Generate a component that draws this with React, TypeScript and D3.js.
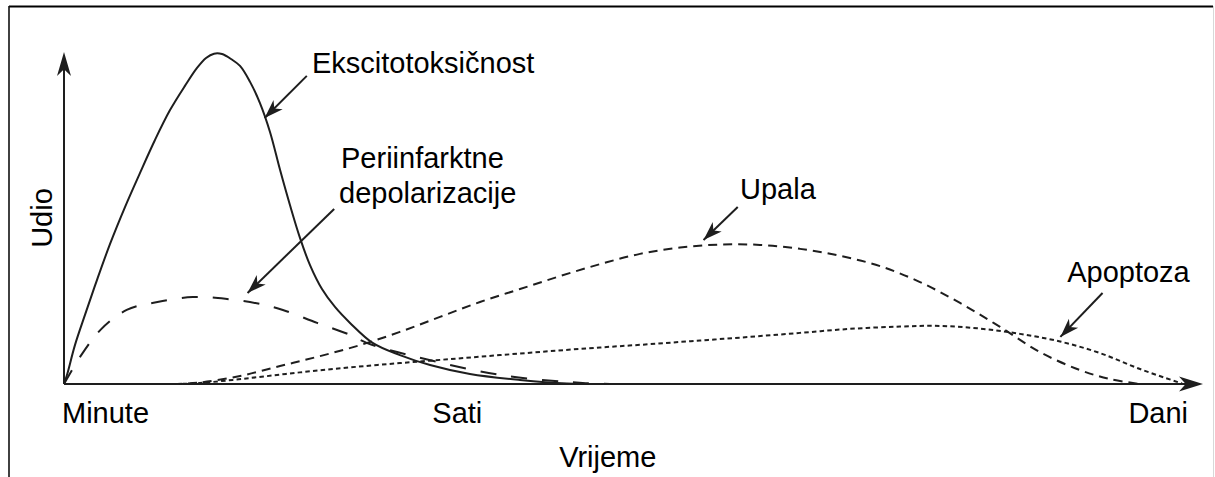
import React from 'react';
import * as d3 from 'd3';

// time runs on an arbitrary 0..100 scale (minutes -> hours -> days), share on 0..100
const excitoTime = [0, 0.26, 0.96, 1.84, 2.89, 4.04, 5.35, 6.67, 7.98, 9.3, 10.61, 11.67, 12.46, 13.16, 13.86, 14.65, 15.44, 16.32, 17.19, 18.07, 18.95, 19.82, 20.7, 21.58, 22.63, 23.77, 25.09, 27.11, 29.47, 32.11, 35.61, 40.0, 44.12, 47.89];
const excitoShare = [0, 2.7, 11.7, 20.8, 31.3, 42.2, 53.3, 63.6, 73.5, 82.5, 89.8, 95.2, 98.2, 99.5, 99.4, 97.9, 95.8, 91.0, 84.6, 75.9, 64.5, 53.9, 44.0, 35.8, 28.6, 23.2, 18.4, 12.3, 8.7, 5.7, 3.0, 1.2, 0.15, 0];

const periTime = [0, 1.4, 3.2, 5.5, 8.2, 11.3, 14.3, 17.2, 19.2, 22.2, 25.1, 26.6, 31.0, 38.3, 45.5, 47.9];
const periShare = [0, 8.1, 16.3, 22.3, 24.7, 26.2, 25.6, 24.1, 22.3, 18.4, 14.8, 12.3, 8.1, 2.7, 0.3, 0];

const upalaTime = [9.56, 11.93, 15.44, 18.95, 22.46, 25.96, 29.47, 32.98, 36.49, 40.0, 43.51, 47.02, 50.53, 54.04, 57.54, 61.05, 64.56, 68.07, 71.58, 75.09, 78.6, 82.11, 85.61, 89.12, 91.75, 94.39];
const upalaShare = [0, 0.45, 2.4, 5.4, 8.4, 11.7, 15.7, 20.2, 24.7, 28.6, 32.5, 36.1, 39.2, 41.1, 42.0, 41.9, 40.7, 38.6, 35.5, 30.7, 24.4, 17.2, 9.6, 4.2, 1.5, 0];

const apoTime = [9.74, 11.93, 16.32, 20.7, 25.09, 29.47, 33.86, 38.25, 42.63, 47.02, 51.4, 55.79, 60.18, 64.56, 68.95, 73.33, 76.84, 80.35, 83.86, 87.37, 90.88, 94.39, 98.07];
const apoShare = [0, 0.3, 1.8, 3.5, 5.0, 6.3, 7.5, 8.7, 9.9, 11.0, 12.0, 13.1, 14.2, 15.4, 16.6, 17.3, 17.5, 16.7, 15.1, 12.8, 9.3, 4.5, 0.15];

const tickLabels = ['Minute', 'Sati', 'Dani'];
const tickTimes = [0, 34.5, 98.6];

const W = 1215;
const H = 477;
const FONT = '"Liberation Sans", Arial, Helvetica, sans-serif';
const INK = '#1e1e1e';

const x = d3.scaleLinear().domain([0, 100]).range([64, 1204]);
const y = d3.scaleLinear().domain([0, 100]).range([384, 52]);

const zip = (t: number[], v: number[]) => t.map((d, i) => [d, v[i]] as [number, number]);

const line = d3
  .line<[number, number]>()
  .x(d => x(d[0]))
  .y(d => Math.min(y(0), y(d[1])))
  .curve(d3.curveCatmullRom.alpha(0.5));

const series = [
  { name: 'excito', pts: zip(excitoTime, excitoShare), dash: 'none' },
  { name: 'peri', pts: zip(periTime, periShare), dash: '16,15' },
  { name: 'upala', pts: zip(upalaTime, upalaShare), dash: '9,6' },
  { name: 'apo', pts: zip(apoTime, apoShare), dash: '4.5,3.2' },
];

// callouts: label anchor and arrow start/end, in data units
const callouts = [
  { lines: ['Ekscitotoksičnost'], at: [21.75, 93.7], from: [21.3, 92.8], to: [17.6, 80.1] },
  { lines: ['Periinfarktne', 'depolarizacije'], at: [24.3, 65.1], from: [23.7, 52.7], to: [16.1, 27.4] },
  { lines: ['Upala'], at: [59.3, 55.7], from: [59.1, 53.3], to: [56.1, 43.4] },
  { lines: ['Apoptoza'], at: [88.0, 30.7], from: [91.1, 27.4], to: [87.4, 14.2] },
];

function head(x1: number, y1: number, x2: number, y2: number, len: number, half: number) {
  const a = Math.atan2(y2 - y1, x2 - x1);
  const c = Math.cos(a);
  const s = Math.sin(a);
  const p = (dx: number, dy: number) => [x2 + dx * c - dy * s, y2 + dx * s + dy * c];
  const pts = [p(0, 0), p(-len, -half), p(-len * 0.72, 0), p(-len, half)];
  return 'M' + pts.map(q => q[0].toFixed(1) + ',' + q[1].toFixed(1)).join('L') + 'Z';
}

export default function App() {
  const x0 = x(0);
  const y0 = y(0);
  const yTop = y(100);
  const xEnd = x(100) - 1;

  return (
    <svg
      width={W}
      height={H}
      style={{ position: 'absolute', left: 0, top: 0, background: '#fff' }}
      fontFamily={FONT}
    >
      {/* frame */}
      <line x1={9} y1={6.5} x2={1213} y2={6.5} stroke="#000" strokeWidth={2.2} />
      <line x1={9} y1={6} x2={9} y2={H} stroke="#111" strokeWidth={1.6} />
      <line x1={1213.5} y1={6} x2={1213.5} y2={H} stroke="#d8d8d8" strokeWidth={1} />

      {/* axes */}
      <line x1={x0} y1={y0} x2={x0} y2={yTop + 10} stroke={INK} strokeWidth={2} />
      <path d={head(x0, y0, x0, yTop, 24, 7)} fill={INK} />
      <line x1={x0} y1={y0} x2={xEnd - 10} y2={y0} stroke={INK} strokeWidth={2} />
      <path d={head(x0, y0, xEnd, y0, 24, 7.5)} fill={INK} />

      {/* curves */}
      {series.map(s => (
        <path
          key={s.name}
          d={line(s.pts) || ''}
          fill="none"
          stroke={INK}
          strokeWidth={2}
          strokeDasharray={s.dash}
        />
      ))}

      {/* callouts */}
      {callouts.map((c, i) => {
        const x1 = x(c.from[0]);
        const y1 = y(c.from[1]);
        const x2 = x(c.to[0]);
        const y2 = y(c.to[1]);
        return (
          <g key={i}>
            <line x1={x1} y1={y1} x2={x2} y2={y2} stroke={INK} strokeWidth={2} />
            <path d={head(x1, y1, x2, y2, 19, 6.5)} fill={INK} />
            <text x={x(c.at[0])} y={y(c.at[1])} fontSize={29} fill="#000">
              {c.lines.map((l, j) => (
                <tspan key={j} x={x(c.at[0]) - j * 2} dy={j === 0 ? 0 : 35}>
                  {l}
                </tspan>
              ))}
            </text>
          </g>
        );
      })}

      {/* x tick labels */}
      {tickLabels.map((t, i) => (
        <text
          key={t}
          x={x(tickTimes[i]) - (i === 0 ? 2 : 0)}
          y={y0 + 39}
          fontSize={29}
          fill="#000"
          textAnchor={i === 0 ? 'start' : i === 1 ? 'middle' : 'end'}
        >
          {t}
        </text>
      ))}

      {/* axis titles */}
      <text x={x(47.7)} y={467} fontSize={29} fill="#000" textAnchor="middle">
        Vrijeme
      </text>
      <text
        transform={`translate(${x0 - 12},${y(50)}) rotate(-90)`}
        fontSize={29}
        fill="#000"
        textAnchor="middle"
      >
        Udio
      </text>
    </svg>
  );
}
